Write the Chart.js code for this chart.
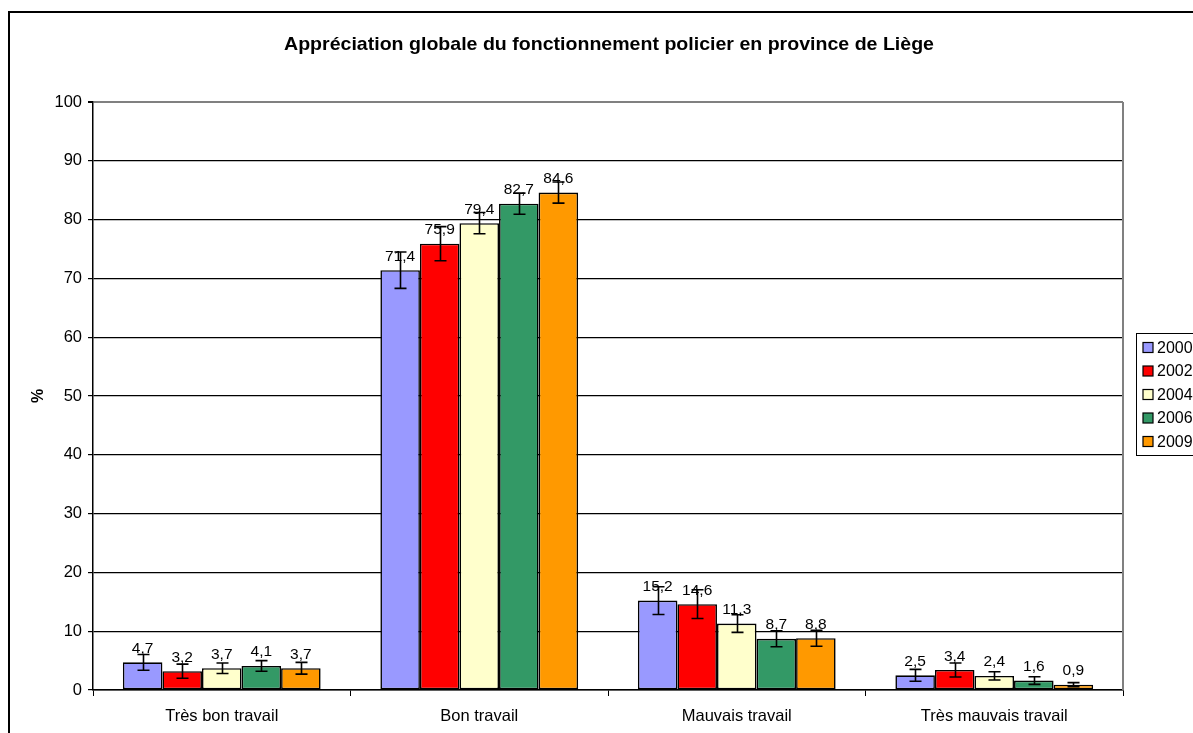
<!DOCTYPE html>
<html>
<head>
<meta charset="utf-8">
<script src="https://cdn.jsdelivr.net/npm/chart.js@4/dist/chart.umd.min.js"></script>
<style>
html,body{margin:0;padding:0;background:#fff;}
canvas{display:block;}
</style>
</head>
<body>
<canvas id="c" width="1193" height="733"></canvas>
<script>
const categories = ["Très bon travail", "Bon travail", "Mauvais travail", "Très mauvais travail"];
const years = ["2000", "2002", "2004", "2006", "2009"];
const v2000 = [4.7, 71.4, 15.2, 2.5];
const v2002 = [3.2, 75.9, 14.6, 3.4];
const v2004 = [3.7, 79.4, 11.3, 2.4];
const v2006 = [4.1, 82.7, 8.7, 1.6];
const v2009 = [3.7, 84.6, 8.8, 0.9];
const e2000 = [1.35, 3.1, 2.35, 1.0];
const e2002 = [1.2, 2.9, 2.45, 1.2];
const e2004 = [0.9, 1.8, 1.5, 0.7];
const e2006 = [0.9, 1.8, 1.35, 0.65];
const e2009 = [1.0, 1.8, 1.35, 0.35];
const yTicks = [0, 10, 20, 30, 40, 50, 60, 70, 80, 90, 100];
const titleText = "Appréciation globale du fonctionnement policier en province de Liège";
const yTitle = "%";

const colors = ["#9999FF", "#FF0000", "#FFFFCC", "#339966", "#FF9900"];
const values = [v2000, v2002, v2004, v2006, v2009];
const errors = [e2000, e2002, e2004, e2006, e2009];
const FONT = "'Liberation Sans', Arial, sans-serif";

const datasets = years.map((y, i) => ({
  label: y,
  data: values[i],
  errors: errors[i],
  backgroundColor: colors[i],
  borderColor: "#000",
  borderWidth: 1.6,
  borderSkipped: false,
  categoryPercentage: 0.768,
  barPercentage: 1.0
}));

const decor = {
  id: "decor",
  beforeDraw(chart) {
    const ctx = chart.ctx;
    ctx.save();
    ctx.fillStyle = "#fff";
    ctx.fillRect(0, 0, chart.width, chart.height);
    ctx.restore();
  },
  afterDatasetsDraw(chart) {
    const ctx = chart.ctx;
    const ys = chart.scales.y;
    ctx.save();
    ctx.strokeStyle = "#000";
    ctx.lineWidth = 1.6;
    chart.data.datasets.forEach((ds, i) => {
      const meta = chart.getDatasetMeta(i);
      meta.data.forEach((el, j) => {
        const v = ds.data[j], e = ds.errors[j];
        const t = ys.getPixelForValue(v + e), b = ys.getPixelForValue(v - e);
        const x = Math.round(el.x) + 0.5;
        ctx.beginPath();
        ctx.moveTo(x, t); ctx.lineTo(x, b);
        ctx.moveTo(x - 6, t); ctx.lineTo(x + 6, t);
        ctx.moveTo(x - 6, b); ctx.lineTo(x + 6, b);
        ctx.stroke();
      });
    });
    ctx.fillStyle = "#000";
    ctx.font = "15.5px " + FONT;
    ctx.textAlign = "center";
    ctx.textBaseline = "alphabetic";
    chart.data.datasets.forEach((ds, i) => {
      const meta = chart.getDatasetMeta(i);
      meta.data.forEach((el, j) => {
        ctx.fillText(String(ds.data[j]).replace(".", ","), el.x, el.y - 9.5);
      });
    });
    ctx.restore();
  },
  afterDraw(chart) {
    const ctx = chart.ctx;
    const ca = chart.chartArea;
    ctx.save();
    ctx.strokeStyle = "#808080";
    ctx.lineWidth = 2;
    ctx.beginPath();
    ctx.moveTo(ca.right, ca.top);
    ctx.lineTo(ca.right, ca.bottom);
    ctx.stroke();
    ctx.strokeStyle = "#000";
    ctx.lineWidth = 2;
    ctx.strokeRect(9, 12, 1400, 1000);
    ctx.fillStyle = "#000";
    ctx.font = "bold 19px " + FONT;
    ctx.textBaseline = "alphabetic";
    ctx.textAlign = "left";
    const w = ctx.measureText(titleText).width;
    const target = 650;
    const sx = target / w;
    ctx.save();
    ctx.translate(609 - target / 2, 50);
    ctx.scale(sx, 1);
    ctx.fillText(titleText, 0, 0);
    ctx.restore();
    ctx.strokeStyle = "#000";
    ctx.lineWidth = 1;
    ctx.strokeRect(1136.5, 333.5, 120, 122);
    ctx.font = "16px " + FONT;
    ctx.textBaseline = "middle";
    ctx.textAlign = "left";
    chart.data.datasets.forEach((ds, i) => {
      const cy = 347.5 + i * 23.5;
      ctx.fillStyle = ds.backgroundColor;
      ctx.fillRect(1143, cy - 5, 10, 10);
      ctx.strokeStyle = "#000";
      ctx.lineWidth = 1.2;
      ctx.strokeRect(1143, cy - 5, 10, 10);
      ctx.fillStyle = "#000";
      ctx.fillText(ds.label, 1157, cy + 1);
    });
    ctx.restore();
  }
};

new Chart(document.getElementById("c"), {
  type: "bar",
  data: { labels: categories, datasets },
  plugins: [decor],
  options: {
    responsive: false,
    animation: false,
    devicePixelRatio: 1,
    layout: { padding: { left: 0, right: 70, top: 102, bottom: 0 } },
    plugins: { legend: { display: false }, title: { display: false }, tooltip: { enabled: false } },
    scales: {
      x: {
        afterFit(s) { s.height = 43; },
        grid: { offset: true, drawOnChartArea: false, color: "#000", tickLength: 6, lineWidth: 1 },
        border: { color: "#000", width: 1.5 },
        ticks: { color: "#000", font: { family: FONT, size: 16.5 }, padding: 11, maxRotation: 0 }
      },
      y: {
        min: 0, max: 100,
        afterFit(s) { s.width = 93; },
        afterBuildTicks(s) { s.ticks = yTicks.map(v => ({ value: v })); },
        grid: {
          color: (c) => (c.tick && c.tick.value === 100 ? "#808080" : "#000"),
          tickColor: "#000",
          lineWidth: (c) => (c.tick && c.tick.value === 100 ? 2 : 1.2),
          tickLength: 5
        },
        border: { color: "#000", width: 1.5 },
        ticks: { color: "#000", font: { family: FONT, size: 16.5 }, padding: 6 },
        title: { display: true, text: yTitle, color: "#000", font: { family: FONT, size: 16, weight: "bold" }, padding: { top: 29, bottom: 0 } }
      }
    }
  }
});
</script>
</body>
</html>
